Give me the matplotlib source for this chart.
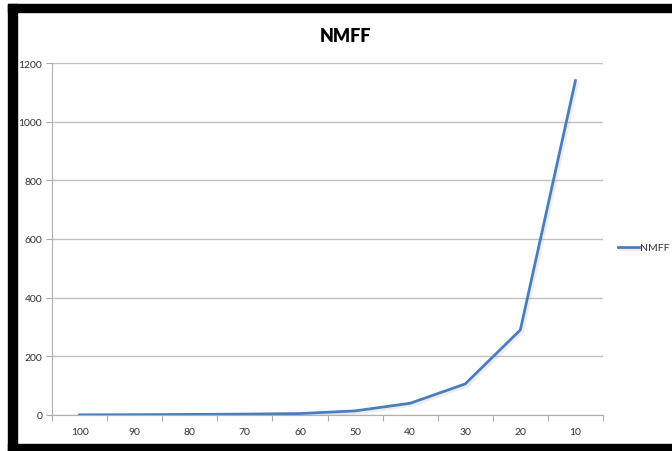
import matplotlib.pyplot as plt
import matplotlib.patheffects as pe
from matplotlib.patches import Rectangle
import numpy as np

categories = ["100", "90", "80", "70", "60", "50", "40", "30", "20", "10"]
nmff = [0.5, 1, 2, 3, 5, 14, 40, 106, 290, 1140]

plt.rcParams['font.family'] = ['Lato', 'DejaVu Sans']

fig = plt.figure(figsize=(6.72, 4.52), dpi=100)
fig.patch.set_facecolor("white")

# black frame of the screenshot
fig.patches.append(Rectangle((8 / 672, 1 - 13 / 452), 1, 8 / 452, transform=fig.transFigure,
                             color="black", zorder=10))
fig.patches.append(Rectangle((8 / 672, 0), 9 / 672, 1 - 5 / 452, transform=fig.transFigure,
                             color="black", zorder=10))
fig.patches.append(Rectangle((8 / 672, 0), 1, 7 / 452, transform=fig.transFigure,
                             color="black", zorder=10))

ax = fig.add_axes([52 / 672, 1 - 416 / 452, (603 - 52) / 672, (416 - 64) / 452])
x = np.arange(len(categories))
ax.plot(x, nmff, color="#4a7ebb", lw=2, label="NMFF",
        path_effects=[pe.SimpleLineShadow(offset=(1.5, -1.5), shadow_color="gray", alpha=0.15), pe.Normal()])

ax.set_xlim(-0.5, len(categories) - 0.5)
ax.set_ylim(0, 1200)
ax.set_yticks(range(0, 1201, 200))
ax.set_xticks(np.arange(-0.5, len(categories), 1))
ax.set_xticklabels([])
ax.set_xticks(x, minor=True)
ax.set_xticklabels(categories, minor=True)
ax.tick_params(axis="x", which="minor", length=0, pad=9, labelsize=7.5, labelcolor="#333333")
ax.tick_params(axis="x", which="major", length=4, color="#aaaaaa")
ax.tick_params(axis="y", length=4, color="#aaaaaa", labelsize=7.5, labelcolor="#333333", pad=3)
ax.grid(axis="y", color="#c0c0c0", lw=1)
ax.set_axisbelow(True)
for s in ["top", "right"]:
    ax.spines[s].set_visible(False)
for s in ["left", "bottom"]:
    ax.spines[s].set_color("#b0b0b0")

fig.text(345 / 672, 1 - 37 / 452, "NMFF", ha="center", va="center", fontsize=13, fontweight="heavy")
ax.legend(loc="center left", bbox_to_anchor=(1.01, 0.475), frameon=False, fontsize=7.5,
          handlelength=2.0, handletextpad=0.1, labelcolor="#333333")

fig.savefig("out.png", dpi=100)
